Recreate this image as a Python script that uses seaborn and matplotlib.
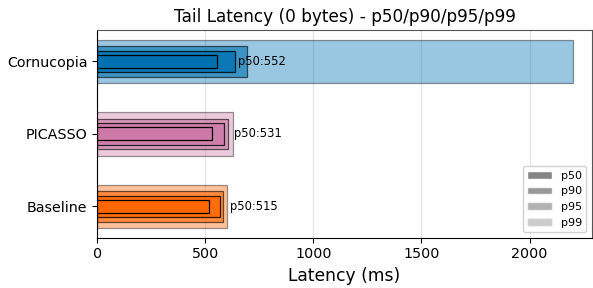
import matplotlib
matplotlib.use("Agg")
import matplotlib.pyplot as plt
from matplotlib.patches import Patch
import seaborn as sns
import pandas as pd

categories = ["Cornucopia", "PICASSO", "Baseline"]
p50 = [552, 531, 515]
p90 = [639, 587, 567]
p95 = [691, 604, 583]
p99 = [2200, 629, 598]
colors = ["#0072B2", "#CC79A7", "#FF6600"]
percentiles = ["p99", "p95", "p90", "p50"]

sns.set_style("ticks", rc={"text.color": "black", "axes.labelcolor": "black",
                           "xtick.color": "black", "ytick.color": "black",
                           "axes.edgecolor": "black"})
plt.rcParams['font.family'] = ['DejaVu Sans']

fig, ax = plt.subplots(figsize=(5.93, 2.88), dpi=100)
fig.subplots_adjust(left=0.164, right=0.998, top=0.895, bottom=0.175)

layers = {"p99": (p99, 0.6, 0.4), "p95": (p95, 0.42, 0.6),
          "p90": (p90, 0.3, 0.8), "p50": (p50, 0.18, 1.0)}

for p in percentiles:
    vals, w, a = layers[p]
    df = pd.DataFrame({"category": categories, "value": vals})
    sns.barplot(data=df, x="value", y="category", hue="category",
                palette=dict(zip(categories, colors)), order=categories,
                orient="h", width=w, alpha=a, edgecolor="black",
                linewidth=0.9, legend=False, ax=ax, zorder=2,
                saturation=1)

for i, (c, v) in enumerate(zip(categories, p50)):
    ax.text(v + 100, i, f"p50:{v}", va="center", ha="left", fontsize=8.3,
            color="black")

ax.set_xlim(0, max(p99) * 1.04)
ax.set_ylim(2.43, -0.43)
ax.xaxis.grid(True, color="#e6e6e6", linewidth=1, zorder=0)
ax.set_axisbelow(True)
ax.set_title("Tail Latency (0 bytes) - p50/p90/p95/p99", fontsize=12.2)
ax.set_xlabel("Latency (ms)", fontsize=12.3)
ax.set_ylabel("")
ax.tick_params(labelsize=10.3)
for s in ["top", "right"]:
    ax.spines[s].set_color("#555555")

handles = [Patch(facecolor="gray", alpha=a, label=l)
           for l, a in [("p50", 0.95), ("p90", 0.8), ("p95", 0.6), ("p99", 0.4)]]
ax.legend(handles=handles, loc="lower right", fontsize=8,
          handlelength=2.2, framealpha=0.9)

fig.savefig("out.png", dpi=100)
